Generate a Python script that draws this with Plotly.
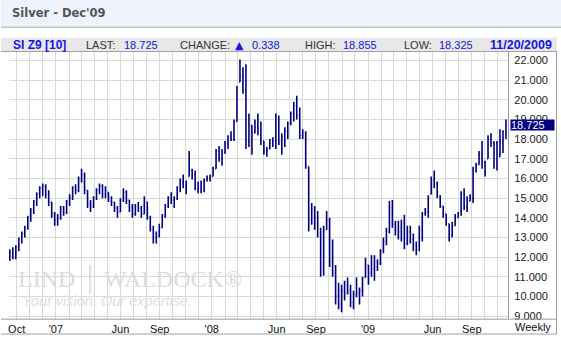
import pandas as pd
import plotly.graph_objects as go

# ---------------- data (weekly bars, Dec'09 silver) ----------------
first_week = "2006-09-15"
n_weeks = 167
week_dates = pd.date_range(first_week, periods=n_weeks, freq="7D")

highs = [
    12.4, 12.5, 12.6, 13.0, 13.3, 13.6, 14.1, 14.5, 14.9, 15.3,
    15.6, 15.75, 15.7, 15.4, 14.8, 14.3, 14.2, 14.6, 14.6, 14.9,
    15.2, 15.6, 15.7, 16.1, 16.5, 16.3, 15.4, 14.9, 15.1, 15.5,
    15.75, 15.7, 15.6, 15.3, 15.1, 14.8, 14.6, 15.0, 15.5, 15.4,
    14.9, 14.7, 14.7, 14.8, 14.6, 15.1, 14.8, 14.1, 13.6, 13.3,
    13.7, 14.2, 14.7, 15.1, 15.3, 15.1, 15.6, 16.0, 16.2, 15.9,
    17.4, 16.5, 16.4, 15.85, 15.9, 16.0, 16.15, 16.2, 16.6, 17.5,
    17.65, 17.5, 17.9, 18.2, 18.4, 19.0, 20.7, 22.05, 21.65, 21.8,
    19.3, 18.7, 19.0, 19.3, 18.9, 17.9, 17.6, 18.0, 18.1, 19.3,
    19.2, 18.3, 18.6, 18.9, 19.4, 19.9, 20.2, 19.6, 18.5, 18.4,
    16.6, 14.75, 14.6, 14.35, 13.5, 13.6, 14.35, 14.0, 12.9, 11.6,
    10.7, 10.6, 10.8, 10.97, 10.6, 10.3, 10.97, 10.46, 11.0, 11.97,
    11.6, 12.1, 12.1, 11.9, 12.4, 13.0, 13.5, 14.85, 14.9, 13.85,
    13.85, 13.9, 14.15, 13.6, 13.6, 13.2, 12.8, 13.6, 14.3, 14.5,
    15.15, 16.1, 16.4, 15.85, 15.15, 14.6, 14.2, 13.7, 13.8, 14.2,
    14.3, 15.35, 15.5, 15.1, 15.2, 16.6, 16.8, 17.4, 17.9, 16.9,
    18.2, 18.3, 17.9, 17.9, 18.5, 18.45, 19.0,
]
lows = [
    11.8, 11.9, 11.9, 12.3, 12.7, 13.0, 13.4, 13.8, 14.2, 14.6,
    15.0, 15.1, 15.0, 14.6, 14.0, 13.6, 13.6, 13.9, 14.1, 14.2,
    14.6, 14.9, 15.2, 15.3, 15.8, 15.2, 14.5, 14.3, 14.5, 14.9,
    15.2, 15.0, 15.0, 14.8, 14.6, 14.3, 14.0, 14.3, 14.8, 14.7,
    14.3, 14.0, 14.1, 14.3, 14.0, 14.2, 13.9, 13.3, 12.7, 12.7,
    13.0, 13.5, 14.0, 14.5, 14.7, 14.5, 14.9, 15.3, 15.5, 15.2,
    16.1, 15.95, 15.4, 15.25, 15.25, 15.3, 15.85, 15.85, 16.1, 16.5,
    16.85, 16.65, 17.25, 17.5, 17.9, 17.9, 18.9, 20.9, 20.3, 17.5,
    17.6, 17.2, 18.3, 18.2, 17.7, 17.2, 17.1, 17.5, 17.6, 17.5,
    17.7, 17.2, 17.6, 18.0, 18.7, 18.9, 19.0, 18.0, 18.0, 16.5,
    13.3, 13.65, 13.4, 13.0, 11.0, 11.05, 13.4, 11.5, 11.0, 9.6,
    9.35, 9.2, 9.8, 10.1, 9.46, 9.35, 9.96, 9.6, 10.0, 10.97,
    10.6, 11.0, 10.8, 11.3, 11.6, 12.2, 12.6, 13.2, 13.5, 13.1,
    12.9, 12.8, 12.4, 12.6, 12.7, 12.3, 12.1, 12.3, 12.8, 14.1,
    14.0, 15.2, 15.5, 15.0, 14.5, 14.0, 13.6, 12.8, 13.0, 13.6,
    14.0, 14.1, 14.4, 14.3, 14.85, 14.75, 16.3, 16.7, 16.5, 16.1,
    17.0, 17.6, 16.5, 16.4, 17.1, 17.3, 18.0,
]
closes = [
    12.2, 12.0, 12.5, 12.9, 13.2, 13.5, 14.0, 14.4, 14.8, 15.2,
    15.5, 15.6, 15.2, 14.8, 14.2, 13.9, 14.0, 14.5, 14.3, 14.8,
    15.0, 15.5, 15.4, 16.0, 16.2, 15.4, 14.7, 14.6, 15.0, 15.4,
    15.6, 15.2, 15.4, 15.0, 14.8, 14.5, 14.3, 14.9, 15.3, 14.9,
    14.5, 14.2, 14.6, 14.5, 14.2, 14.9, 14.0, 13.4, 13.0, 13.1,
    13.5, 14.1, 14.6, 15.0, 14.9, 15.0, 15.5, 15.8, 15.6, 15.8,
    16.4, 16.2, 15.5, 15.5, 15.4, 15.9, 16.0, 16.1, 16.5, 17.4,
    17.0, 17.3, 17.8, 18.1, 18.0, 18.9, 20.6, 21.2, 20.5, 17.9,
    19.0, 17.5, 18.6, 18.4, 17.9, 17.4, 17.4, 17.8, 17.9, 19.1,
    17.9, 18.1, 18.4, 18.8, 19.3, 19.7, 19.2, 18.2, 18.3, 16.7,
    13.9, 14.4, 14.0, 13.2, 11.4, 13.3, 13.9, 11.8, 11.2, 10.0,
    9.6, 10.3, 10.2, 10.3, 9.7, 10.1, 10.2, 10.3, 10.9, 11.6,
    11.2, 11.4, 11.5, 11.7, 12.3, 12.8, 13.3, 14.5, 13.7, 13.4,
    13.3, 13.7, 12.7, 13.3, 12.9, 12.6, 12.4, 13.4, 14.2, 14.3,
    15.0, 15.9, 15.7, 15.1, 14.6, 14.2, 13.8, 13.1, 13.6, 14.0,
    14.2, 15.2, 14.6, 14.5, 15.0, 16.4, 16.6, 17.2, 16.8, 16.3,
    18.0, 17.8, 17.8, 16.6, 17.9, 18.387, 18.725,
]
opens = [
    12.0, 12.2, 12.0, 12.5, 12.9, 13.2, 13.5, 14.0, 14.4, 14.8,
    15.2, 15.5, 15.6, 15.2, 14.8, 14.2, 13.9, 14.0, 14.5, 14.3,
    14.8, 15.0, 15.5, 15.4, 16.0, 16.2, 15.4, 14.7, 14.6, 15.0,
    15.4, 15.6, 15.2, 15.3, 15.0, 14.8, 14.5, 14.3, 14.9, 15.3,
    14.9, 14.5, 14.2, 14.6, 14.5, 14.2, 14.8, 14.0, 13.4, 13.0,
    13.1, 13.5, 14.1, 14.6, 15.0, 14.9, 15.0, 15.5, 15.8, 15.6,
    16.1, 16.4, 16.2, 15.5, 15.5, 15.4, 15.9, 16.0, 16.1, 16.5,
    17.4, 17.0, 17.3, 17.8, 18.1, 18.0, 18.9, 20.9, 21.2, 20.5,
    17.9, 18.7, 18.3, 18.6, 18.4, 17.9, 17.4, 17.5, 17.8, 17.9,
    19.1, 17.9, 18.1, 18.4, 18.8, 19.3, 19.7, 19.2, 18.2, 18.3,
    16.6, 13.9, 14.4, 14.0, 13.2, 11.4, 13.4, 13.9, 11.8, 11.2,
    10.0, 9.6, 10.3, 10.2, 10.3, 9.7, 10.1, 10.2, 10.3, 10.97,
    11.6, 11.2, 11.4, 11.5, 11.7, 12.3, 12.8, 13.3, 14.5, 13.7,
    13.4, 13.3, 13.7, 12.7, 13.3, 12.9, 12.6, 12.4, 13.4, 14.2,
    14.3, 15.2, 15.9, 15.7, 15.1, 14.6, 14.2, 13.7, 13.1, 13.6,
    14.0, 14.2, 15.2, 14.6, 14.85, 15.0, 16.4, 16.7, 17.2, 16.8,
    17.0, 18.0, 17.8, 17.8, 17.1, 17.9, 18.387,
]

y_ticks = [9, 10, 11, 12, 13, 14, 15, 16, 17, 18, 19, 20, 21, 22]
x_label_dates = ["2006-10-01", "2007-01-01", "2007-06-01", "2007-09-01",
                 "2008-01-01", "2008-06-01", "2008-09-01", "2009-01-01",
                 "2009-06-01", "2009-09-01"]
x_label_text = ["Oct", "'07", "Jun", "Sep", "'08", "Jun", "Sep", "'09", "Jun", "Sep"]

title_text = "Silver - Dec'09"
symbol_text = "SI Z9 [10]"
last_price = 18.725
last_text = "18.725"
change_val = "0.338"
high_val = "18.855"
low_val = "18.325"
date_text = "11/20/2009"

# ---------------- figure ----------------
W, H = 561, 341
def px(x):
    return x / W
def py(y):
    return 1 - y / H

NAVY = "#000080"
GRID = "#D9D9D9"
AXC = "#999999"
BLUE = "#1414E6"
FONT = "Liberation Sans, Arial, sans-serif"

fig = go.Figure()
fig.add_trace(go.Ohlc(
    x=week_dates, open=opens, high=highs, low=lows, close=closes,
    increasing=dict(line=dict(color=NAVY, width=1.6)),
    decreasing=dict(line=dict(color=NAVY, width=1.6)),
    tickwidth=0.3, hoverinfo="skip", showlegend=False,
))

fig.update_layout(
    width=W, height=H, margin=dict(l=0, r=0, t=0, b=0),
    paper_bgcolor="white", plot_bgcolor="white",
    showlegend=False,
    xaxis=dict(
        type="date", domain=[px(8), px(508)],
        range=["2006-09-13", "2009-11-25"],
        rangeslider=dict(visible=False),
        tickvals=x_label_dates, ticktext=x_label_text,
        tickfont=dict(family=FONT, size=11, color="#111111"),
        ticks="", ticklabelstandoff=2,
        showgrid=True, gridcolor=GRID, gridwidth=1,
        minor=dict(dtick="M1", tick0="2006-10-01", showgrid=True,
                   gridcolor=GRID, gridwidth=1, ticks=""),
        showline=False, zeroline=False,
        fixedrange=True,
    ),
    yaxis=dict(
        domain=[py(322), py(52)], range=[8.85, 22.45], side="right",
        tickvals=y_ticks, tickformat=".3f",
        tickfont=dict(family=FONT, size=11, color="#1a1a1a"),
        ticks="", showgrid=True, gridcolor=GRID, gridwidth=1,
        showline=True, linecolor=AXC, linewidth=1, zeroline=False,
        ticklabelstandoff=3,
    ),
)

shapes = [
    # title bar
    dict(type="rect", xref="paper", yref="paper", x0=0, x1=1, y0=py(27), y1=1,
         fillcolor="#EEF2FC", line=dict(width=0), layer="below"),
    dict(type="line", xref="paper", yref="paper", x0=0, x1=1, y0=py(27.5), y1=py(27.5),
         line=dict(color="#C4C4C4", width=1.5)),
    # header bar
    dict(type="rect", xref="paper", yref="paper", x0=0, x1=px(557), y0=py(52), y1=py(38),
         fillcolor="#E8E8E8", line=dict(width=0), layer="below"),
    dict(type="line", xref="paper", yref="paper", x0=0, x1=px(557), y0=py(52), y1=py(52),
         line=dict(color="#A0A0A0", width=1)),
    # bottom label row
    dict(type="line", xref="paper", yref="paper", x0=0, x1=px(557), y0=py(322), y1=py(322),
         line=dict(color=AXC, width=1)),
    dict(type="line", xref="paper", yref="paper", x0=0, x1=px(557), y0=py(337), y1=py(337),
         line=dict(color="#A0A0A0", width=1)),
    dict(type="line", xref="paper", yref="paper", x0=px(556.5), x1=px(556.5), y0=py(337), y1=py(52),
         line=dict(color="#A0A0A0", width=1)),
]
fig.update_layout(shapes=shapes)

ann = []
def text(x, y, s, size=11, color="#333333", bold=False, family=FONT, anchor="left", italic=False):
    if bold:
        s = "<b>" + s + "</b>"
    if italic:
        s = "<i>" + s + "</i>"
    ann.append(dict(xref="paper", yref="paper", x=px(x), y=py(y), text=s, showarrow=False,
                    xanchor=anchor, yanchor="middle",
                    font=dict(family=family, size=size, color=color)))

text(9, 13.5, title_text, size=11.5, color="#555555", bold=True,
     family="DejaVu Sans, Verdana, sans-serif")
text(10, 45.5, symbol_text, size=12, color=BLUE, bold=True)
text(116, 45.5, "LAST:", color="#333333", anchor="right")
text(121, 45.5, last_text, color=BLUE)
text(231, 45.5, "CHANGE:", color="#333333", anchor="right")
text(239, 45.5, "\u25B2", size=11, color=BLUE, anchor="center",
     family="DejaVu Sans, sans-serif")
text(249, 45.5, change_val, color=BLUE)
text(338, 45.5, "HIGH:", color="#333333", anchor="right")
text(341, 45.5, high_val, color=BLUE)
text(434, 45.5, "LOW:", color="#333333", anchor="right")
text(437, 45.5, low_val, color=BLUE)
text(554, 45.5, date_text, size=12.5, color=BLUE, bold=True, anchor="right")
text(513, 330, "Weekly", color="#111111")

# watermark
text(15, 282, "LIND \u2502 WALDOCK\u00AE", size=24, color="#DCDCDC",
     family="Liberation Serif, Times New Roman, serif")
text(19, 304, "Your vision. Our expertise.", size=14.5, color="#E0E0E0", italic=True)

# last price flag (covers the 19.000 label, as in the original)
ann.append(dict(xref="paper", yref="y", x=px(510), y=last_price, text=last_text,
                showarrow=False, xanchor="left", yanchor="middle",
                bgcolor=NAVY, width=43, height=10, align="left", borderpad=0,
                font=dict(family=FONT, size=11, color="white")))

fig.update_layout(annotations=ann)

fig.write_html("out.html")
